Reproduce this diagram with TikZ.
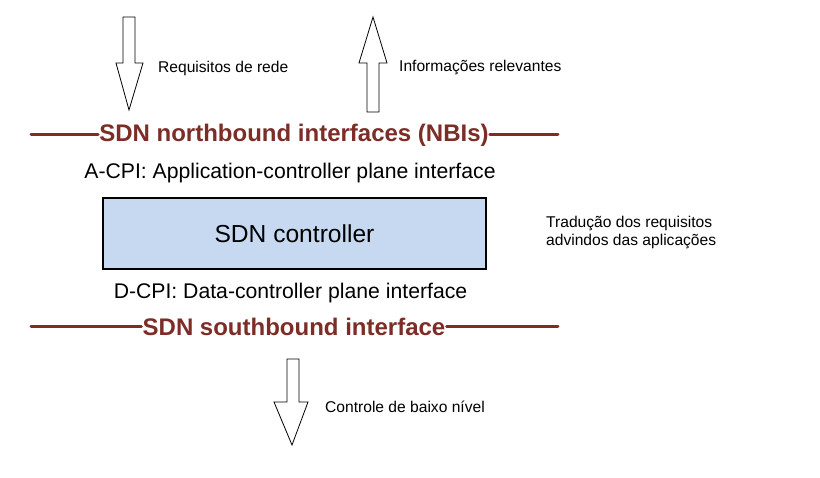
\documentclass[tikz,border=0pt]{standalone}
\usepackage{fontspec}
\setmainfont{Liberation Sans}
\usetikzlibrary{positioning}
\definecolor{ifred}{HTML}{7B2D26}
\definecolor{ctlblue}{HTML}{C6D9F0}

\begin{document}
\begin{tikzpicture}[x=1pt,y=-1pt,
  blockarrow/.style={draw=black,fill=white,line width=0.8pt,line join=miter},
  head text/.style={font=\fontsize{24}{28}\selectfont\bfseries,text=ifred,inner sep=1pt},
  bus line/.style={draw=ifred,line width=3pt,line cap=round},
  plane text/.style={font=\fontsize{21.2}{25}\selectfont},
  note/.style={font=\fontsize{15.6}{17.5}\selectfont,anchor=west,inner sep=0pt}]

  \useasboundingbox (0,0) rectangle (820,478);

  % arrows from/to the applications
  \draw[blockarrow] (123,17) -- (135,17) -- (135,63) -- (143,63) -- (129,110)
    -- (116,63) -- (123,63) -- cycle;
  \node[note] (req) at (158,68) {Requisitos de rede};

  \draw[blockarrow] (367,112) -- (379,112) -- (379,63) -- (387,63) -- (373,17)
    -- (359,63) -- (367,63) -- cycle;
  \node[note] (info) at (399,68) {Informações relevantes};

  % northbound
  \coordinate (nl) at (31,135);
  \coordinate (nr) at (558,135);
  \node[head text] (nbi) at (294,135) {SDN northbound interfaces (NBIs)};
  \draw[bus line] (nl) -- (nbi.west);
  \draw[bus line] (nbi.east) -- (nr);
  \node[plane text] (acpi) at (290,173) {A-CPI: Application-controller plane interface};

  % controller
  \node[draw=black,fill=ctlblue,line width=1.6pt,minimum width=383pt,minimum height=71pt,
    font=\fontsize{24.6}{28}\selectfont] (ctl) at (294.5,233.5) {SDN controller};
  \node[note,align=left] (trad) at (546,232.5) {Tradução dos requisitos\\advindos das aplicações};

  % southbound
  \node[plane text] (dcpi) at (290.5,293) {D-CPI: Data-controller plane interface};
  \coordinate (sl) at (31,327);
  \coordinate (sr) at (558,327);
  \node[head text] (sbi) at (294,327) {SDN southbound interface};
  \draw[bus line] (sl) -- (sbi.west);
  \draw[bus line] (sbi.east) -- (sr);

  % arrow to the devices
  \draw[blockarrow] (287,359) -- (299,359) -- (299,402) -- (308,402) -- (292,445)
    -- (274,402) -- (287,402) -- cycle;
  \node[note] (ctrl) at (325,407) {Controle de baixo nível};

\end{tikzpicture}
\end{document}
